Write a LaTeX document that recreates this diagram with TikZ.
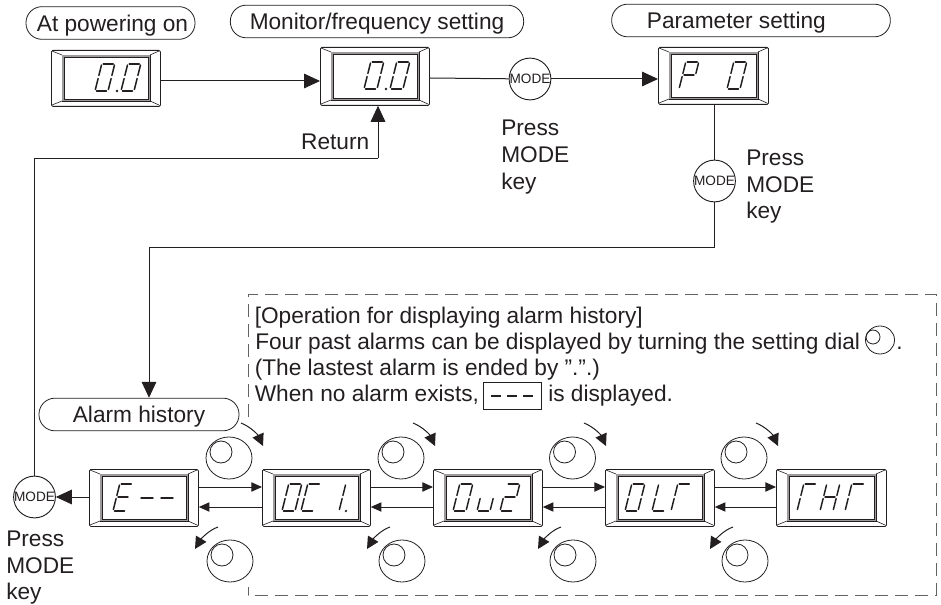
\documentclass[tikz,border=0pt]{standalone}
\usepackage{fontspec}
\setmainfont{Liberation Sans}
\usetikzlibrary{arrows.meta}
\definecolor{ink}{HTML}{231F20}
\tikzset{
  x=0.75pt,y=-0.75pt,
  conn/.style={draw=ink,line width=0.75pt},
  arr/.style={conn,-{Triangle[length=12pt,width=11pt]}},
  smallarr/.style={conn,-{Triangle[length=8pt,width=7pt]}},
  turn/.style={conn,-{Triangle[length=9pt,width=9pt]}},
  pill/.style={draw=ink,line width=0.6pt,rounded corners=12pt,minimum height=24.5pt,inner sep=0pt,text depth=0pt,font=\fontsize{17}{20}\selectfont,text=ink},
  modekey/.style={circle,draw=ink,line width=0.7pt,fill=white,minimum size=30pt,inner sep=0pt,font=\fontsize{10.2}{10.2}\selectfont,text=ink},
  label/.style={align=left,anchor=north west,inner sep=0pt,font=\fontsize{17}{20}\selectfont,text=ink},
  line/.style={anchor=base west,inner sep=0pt,font=\fontsize{17}{20}\selectfont,text=ink},
  seg/.style={draw=ink,line width=1.1pt,line cap=round},
  frame/.style={draw=ink,line width=0.6pt,fill=white},
}
\newcommand{\sevenseg}[3]{%
  \begin{scope}[shift={(#1,#2)},x=0.75pt,y=-0.75pt,cm={1,0,0.25,1,(0,0)}]
  \foreach \s in {#3}{%
    \if\s a\draw[seg] (1.5,-27)--(11.5,-27);\fi
    \if\s b\draw[seg] (13,-26)--(13,-15.5);\fi
    \if\s c\draw[seg] (13,-12.5)--(13,-1.5);\fi
    \if\s d\draw[seg] (1.5,0)--(11.5,0);\fi
    \if\s e\draw[seg] (0,-12.5)--(0,-1.5);\fi
    \if\s f\draw[seg] (0,-26)--(0,-15.5);\fi
    \if\s g\draw[seg] (1.5,-14)--(11.5,-14);\fi
    \if\s h\fill[ink] (20,0) circle (0.95pt);\fi
  }
  \end{scope}}
\newcommand{\dispframe}[5]{%
  \node[frame,rectangle,minimum width={(#3-#1)*0.75pt},minimum height={(#4-#2)*0.75pt},inner sep=0pt,anchor=north west,rounded corners=1pt] (#5) at (#1,#2) {};
  \draw[ink,line width=0.5pt,fill=white] (#1+11,#2+5) rectangle (#3-10,#4-5);
  \fill[ink!45] (#1+11,#2+5) rectangle (#1+13,#4-5);
  \fill[ink!45] (#3-12,#2+5) rectangle (#3-10,#4-5);
  \fill[ink!45] (#1+11,#2+5) rectangle (#3-10,#2+7);
  \fill[ink!45] (#1+11,#4-7) rectangle (#3-10,#4-5);
  \draw[ink,line width=0.6pt,fill=white] (#1+13,#2+7) rectangle (#3-12,#4-7);
  \draw[ink,line width=0.45pt] (#1+1,#2+1)--(#1+11,#2+5) (#3-1,#2+1)--(#3-10,#2+5) (#1+1,#4-1)--(#1+11,#4-5) (#3-1,#4-1)--(#3-10,#4-5);
}
\newcommand{\dial}[3]{%
  \draw[ink,line width=0.6pt] (#1,#2) ellipse [x radius=23,y radius=21];
  \draw[ink,line width=0.6pt] (#1-8,#2-6) circle [radius=11];
}
\begin{document}
\begin{tikzpicture}
\useasboundingbox (0,0) rectangle (941,605);
% pills
\node[pill,minimum width=126.75pt] (p1) at (110.5,23) {\hspace*{3pt}At powering on};
\node[pill,minimum width=220pt] (p2) at (377,21.5) {Monitor/frequency setting};
\node[pill,minimum width=209pt] (p3) at (751,20.5) {Parameter setting\hspace*{22pt}};
\node[pill,minimum width=150pt] (p4) at (139,414.5) {Alarm history};
% displays
\dispframe{51}{50}{160}{106}{d1}
\dispframe{320}{47}{429}{105}{d2}
\dispframe{658}{47}{768}{104}{d3}
\dispframe{89}{469}{198}{526}{e1}
\dispframe{262}{469}{370}{526}{e2}
\dispframe{433}{469}{542}{526}{e3}
\dispframe{605}{469}{714}{526}{e4}
\dispframe{776}{469}{886}{526}{e5}
% digits
\sevenseg{95}{91}{a,b,c,d,e,f}\sevenseg{121}{91}{a,b,c,d,e,f}
\fill[ink] (117,91) circle (0.95pt);
\sevenseg{364}{89}{a,b,c,d,e,f}\sevenseg{390}{89}{a,b,c,d,e,f}
\fill[ink] (386,89) circle (0.95pt);
\sevenseg{679}{89}{a,b,e,f,g}\sevenseg{727}{89}{a,b,c,d,e,f}
\sevenseg{113}{511}{a,d,e,f,g}
\draw[seg] (141,498)--(153,498) (161,498)--(173,498);
\sevenseg{282}{511}{a,b,c,d,e,f}\sevenseg{301}{511}{a,d,e,f}\sevenseg{326}{511}{c,b,h}
\sevenseg{453}{511}{a,b,c,d,e,f}\sevenseg{477}{511}{c,d,e}\sevenseg{500}{511}{a,b,d,e,g}
\sevenseg{625}{511}{a,b,c,d,e,f}\sevenseg{652}{511}{d,e,f}\sevenseg{671}{511}{a,e,f}
\sevenseg{797}{511}{a,e,f}\sevenseg{820}{511}{b,c,e,f,g}\sevenseg{845}{511}{a,e,f}
% connectors
\node[modekey] (m1) at (530,79) {MODE};
\node[modekey] (m2) at (714.5,181) {MODE};
\node[modekey] (m3) at (34.5,497) {MODE};
\coordinate (c1) at (715,248);
\coordinate (c2) at (149,248);
\coordinate (c3) at (34.5,158.5);
\coordinate (c4) at (378,158.5);
\draw[arr] (d1.east |- 0,81) -- (d2.west |- 0,81);
\draw[conn] (d2.east |- 0,78) -- (m1);
\draw[arr] (m1) -- (d3.west |- 0,79);
\draw[conn] (d3.south -| m2) -- (m2);
\draw[conn] (m2) -- (m2 |- c1) -- (c2);
\draw[arr] (c2) -- (c2 |- p4.north);
\draw[conn] (m3) -- (c3) -- (c4);
\draw[arr] (c4) -- (c4 |- d2.south);
\draw[arr] (e1.west |- 0,497) -- (m3);
\foreach \a/\b in {e1/e2,e2/e3,e3/e4,e4/e5}{
  \draw[smallarr] (\a.east |- 0,487) -- (\b.west |- 0,487);
  \draw[smallarr] (\b.west |- 0,507) -- (\a.east |- 0,507);
}
% dials
\foreach \x in {229,401,572.5,744}{\dial{\x}{458}{}}
\foreach \x in {230,402,573,745}{\dial{\x}{561}{}}
\foreach \x in {241,413,584,756}{
  \draw[turn] (\x,423) .. controls (\x+10,427) and (\x+17,435) .. (\x+22,446);
}
\foreach \x in {218,390,561,733}{
  \draw[turn] (\x,527) .. controls (\x-9,530) and (\x-17,539) .. (\x-23,549);
}
% texts
\node[label,font=\fontsize{17}{20.3}\selectfont] (t1) at (501,119.5) {Press\\MODE\\key};
\node[label,font=\fontsize{17}{20}\selectfont] (t2) at (746,149.5) {Press\\MODE\\key};
\node[label,font=\fontsize{17}{20}\selectfont] (t3) at (6,530.5) {Press\\MODE\\key};
\node[anchor=base east,inner sep=0pt,font=\fontsize{17}{20}\selectfont,text=ink] (ret) at (369.5,150) {Return};
\node[line] (la) at (254.5,323.5) {[Operation for displaying alarm history]};
\node[line] (lb) at (255,349.5) {Four past alarms can be displayed by turning the setting dial};
\node[line] (lb2) at (896,349.5) {.};
\node[line] (lc) at (254.5,376) {(The lastest alarm is ended by ".".)};
\node[line] (ld) at (254.5,401) {When no alarm exists,};
\node[line] (ld2) at (548,401) {is displayed.};
\draw[ink,line width=0.5pt] (483,382) rectangle (541,409);
\draw[ink,line width=1.5pt] (491,396)--(501,396) (507,396)--(517,396) (523,396)--(533,396);
\draw[ink,line width=0.6pt] (880,340) ellipse [x radius=14.5,y radius=14];
\draw[ink,line width=0.6pt] (873,337) circle [radius=7];
% dashed box
\draw[ink!70,line width=0.65pt,dash pattern=on 10pt off 5pt] (248,417) -- (248,294) -- (936,294) -- (936,595) -- (248,595) -- (248,587);
\end{tikzpicture}
\end{document}
